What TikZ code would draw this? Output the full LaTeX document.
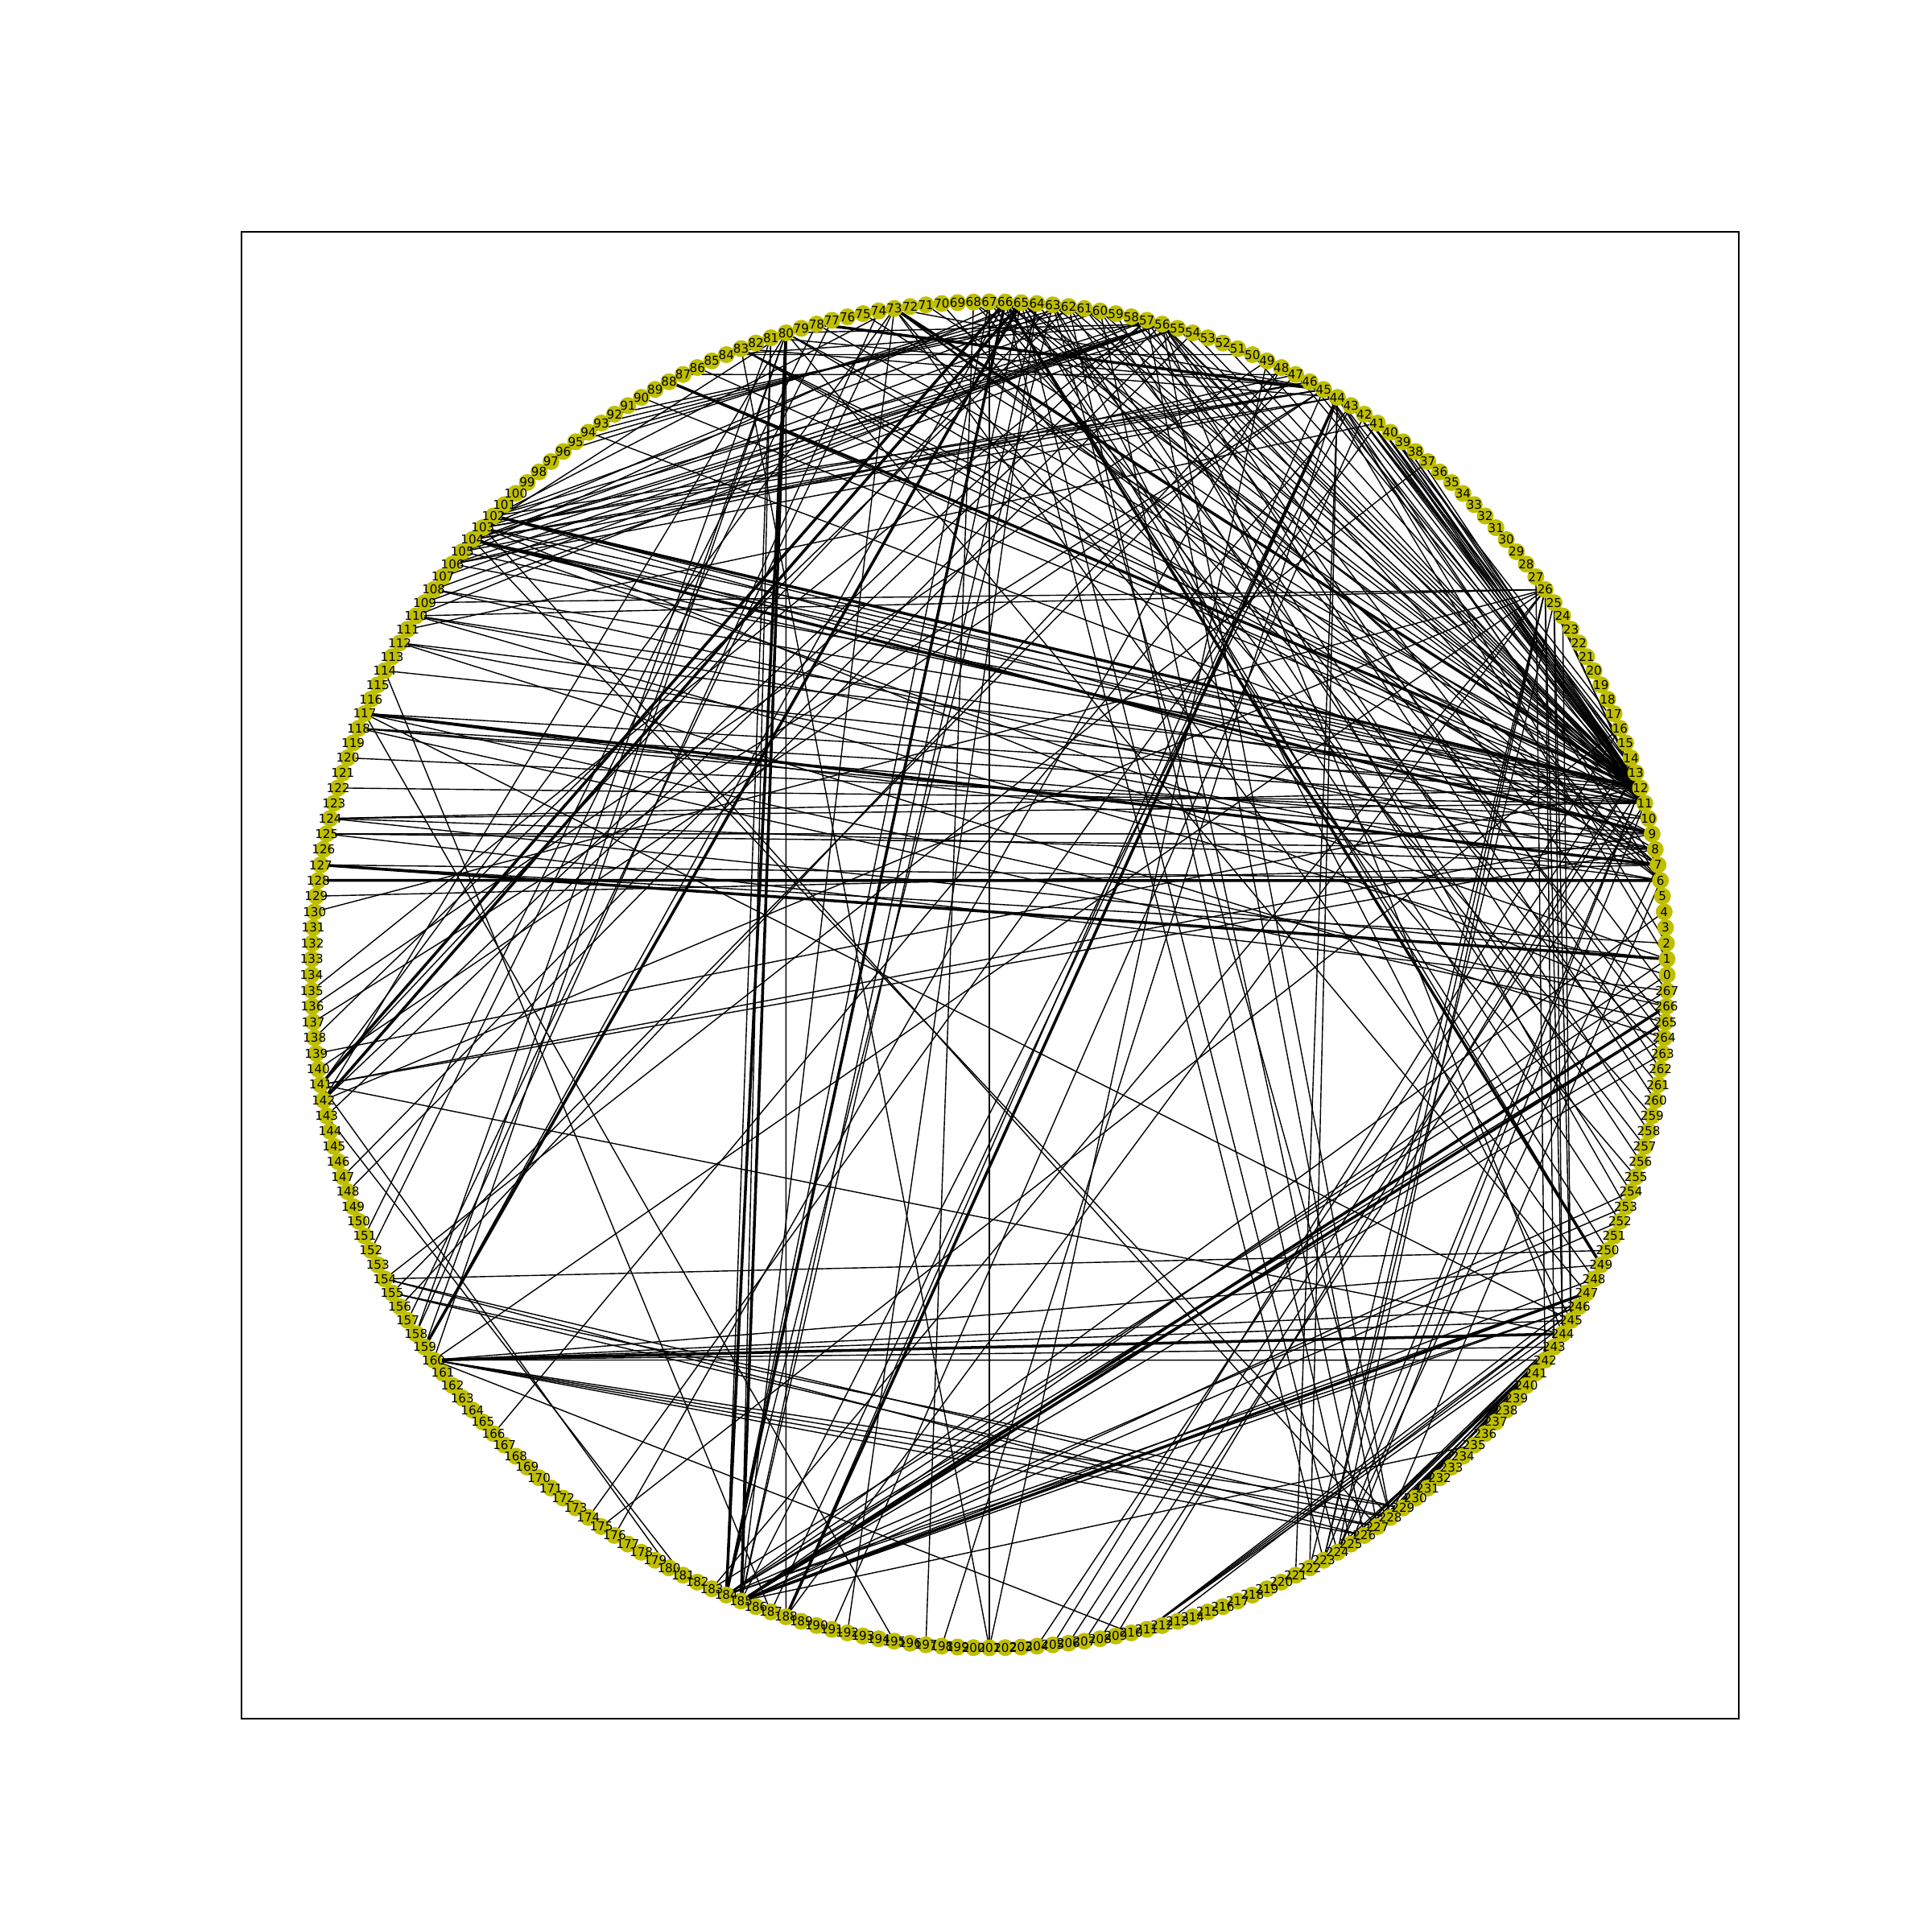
\documentclass[tikz,border=0pt]{standalone}
\usepackage{fontspec}
\setsansfont{DejaVu Sans}
\usepackage{tikz}
\pgfdeclarelayer{background}
\pgfsetlayers{background,main}
\definecolor{nodeyellow}{rgb}{0.75,0.75,0}

\begin{document}
\begin{tikzpicture}[
  x=1cm,y=1cm,
  vertex/.style={circle,fill=nodeyellow,inner sep=0pt,minimum size=0.21cm},
  tag/.style={inner sep=0pt,font=\sffamily\fontsize{4.3}{5}\selectfont},
  edge/.style={black,line width=0.4pt},
  heavy/.style={black,line width=1.0pt}
]
\useasboundingbox (0,0) rectangle (24,24);

% 枠
\draw[line width=0.5pt] (3.00,2.65) rectangle (21.60,21.12);

% 頂点（円周上）
\foreach \k in {0,...,267}
  \node[vertex] (n\k) at ({12.29+8.42*cos(\k/268*360)},{11.89+8.36*sin(\k/268*360)}) {};
\foreach \k in {0,...,267}
  \node[tag] at (n\k) {\k};

% 辺
\begin{pgfonlayer}{background}
\foreach \a/\b in {
  38/12, 39/12, 40/12, 40/11, 41/12, 41/11, 42/12, 42/11, 43/12, 43/13, 39/13, 41/14, 42/15, 40/16,
  43/14,
  44/12, 45/11, 46/12, 47/12, 50/12, 52/11, 54/12, 55/12, 56/12, 56/11, 57/12, 58/11, 60/12, 61/12,
  62/11, 63/12, 65/12, 66/12, 67/11, 68/12, 71/12, 75/11, 78/12, 80/12, 83/11, 86/12, 88/11, 90/11,
  102/11, 103/12, 104/12, 104/11, 106/12, 108/12, 110/11, 112/12, 114/11,
  117/12, 118/11, 124/12, 124/11, 122/11, 26/12, 25/11,
  223/12, 224/12, 225/11, 204/14, 205/16, 206/13, 207/12, 208/11, 209/13, 175/16,
  117/6, 118/8, 118/9, 125/9, 125/8, 124/7, 127/6, 129/7, 108/7, 103/8, 102/9, 73/7, 73/6, 66/7,
  65/6, 80/8, 45/7, 56/6, 83/9, 83/7, 94/9, 110/8, 112/6, 141/8, 141/9, 105/10, 120/10, 44/6, 45/1,
  127/2, 124/1, 125/267, 117/266, 118/265, 104/1, 103/266, 110/0, 112/264,
  184/265, 184/264, 185/263, 183/267, 184/0, 185/1, 184/4, 44/2,
  56/267, 58/264, 61/265, 68/263, 64/261, 56/262, 57/260, 70/259, 60/258, 67/257, 62/256, 73/255,
  63/254, 59/253, 65/252,
  65/249, 66/250, 154/250, 160/249,
  27/242, 26/243, 26/244, 25/244, 25/245, 24/245,
  160/242, 160/243, 160/245, 160/246,
  223/242, 224/243, 224/244, 225/243, 225/244, 226/242, 227/243, 227/241, 228/244, 229/243,
  226/240, 228/242,
  211/244, 211/245, 211/246, 211/247, 212/246,
  184/246, 184/247, 185/246, 185/248, 184/253, 185/254, 185/252, 185/235,
  56/244, 63/245, 73/248, 80/247, 117/245, 141/244,
  26/222, 26/223, 26/224, 25/223,
  160/226, 160/227, 160/228, 160/229, 154/228, 155/227, 155/229, 154/226,
  56/228, 57/227, 60/226, 62/225, 63/228, 65/224, 66/223, 44/222, 44/221, 104/228, 103/227,
  6/228, 7/224,
  81/184, 80/188, 81/185, 44/187, 43/185, 45/188,
  65/185, 67/184, 64/185, 63/184, 73/185, 26/188, 183/26,
  191/42, 192/64, 197/68, 198/44, 201/67, 201/49, 201/83,
  174/41, 176/48, 166/43, 160/210, 114/187, 141/180, 117/195, 143/181,
  159/66, 158/74, 157/73, 156/48, 155/47, 152/77, 151/78, 148/54, 147/55, 160/26, 154/37,
  160/80, 159/80, 158/81,
  141/73, 142/80, 143/56, 141/63, 142/57, 140/45, 135/57, 136/49, 137/45, 130/26, 138/62,
  139/12, 142/26,
  102/56, 103/57, 104/60, 102/62, 103/65, 104/55, 104/44, 103/45, 45/102, 46/103, 45/104,
  46/105, 47/106, 56/104, 56/105, 56/106, 56/107, 56/108, 55/109, 57/110,
  62/94, 61/93, 63/95, 60/92, 64/96, 47/87, 50/84, 102/73, 103/80, 105/66, 106/44, 109/26,
  111/41, 73/45, 80/56, 81/45, 83/44, 84/56, 26/110}
  \draw[edge] (n\a.center) -- (n\b.center);

% 太く見える辺
\foreach \a/\b in {
  102/12, 66/249, 44/188, 80/184, 80/185, 117/7, 127/1, 66/184, 159/65, 141/66, 142/65,
  73/12, 78/45, 104/9, 88/12, 185/266, 185/247, 128/6, 160/244, 185/265}
  \draw[heavy] (n\a.center) -- (n\b.center);
\end{pgfonlayer}

\end{tikzpicture}
\end{document}
